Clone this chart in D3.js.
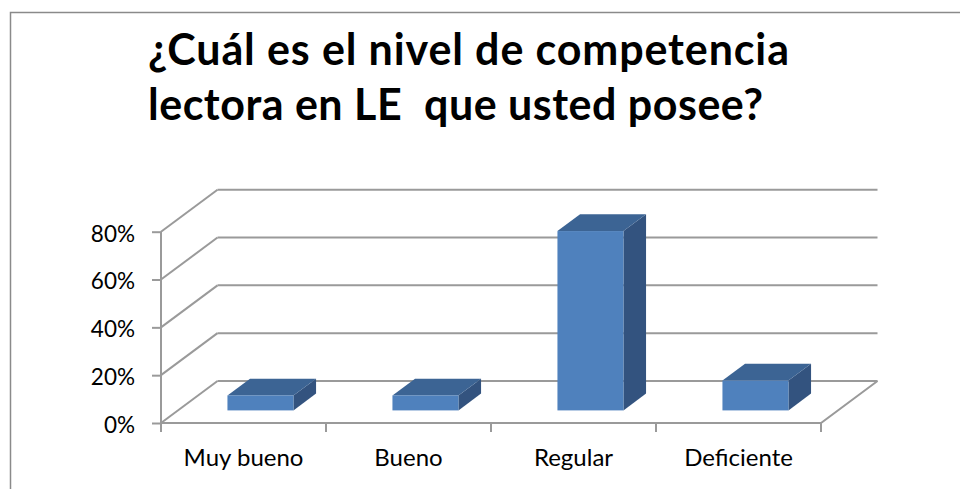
<!DOCTYPE html>
<html>
<head>
<meta charset="utf-8">
<script src="https://cdn.jsdelivr.net/npm/d3@7"></script>
<style>
  html, body { margin: 0; padding: 0; background: #fff; overflow: hidden; }
  svg { display: block; }
  text { font-family: Lato, "Open Sans", sans-serif; fill: #000; }
</style>
</head>
<body>
<div id="chart"></div>
<script>
const categories = ["Muy bueno", "Bueno", "Regular", "Deficiente"];
const values = [0.0625, 0.0625, 0.75, 0.125];
const yTicks = [0, 0.2, 0.4, 0.6, 0.8];
const titleLines = ["¿Cuál es el nivel de competencia", "lectora en LE  que usted posee?"];

(function() {
  const width = 960;
  const height = 489;

  const svg = d3.select("#chart")
    .append("svg")
    .attr("width", width)
    .attr("height", height);

  // outer chart border (runs off the right / bottom edge)
  svg.append("rect")
    .attr("x", 10.5)
    .attr("y", 12.5)
    .attr("width", 980)
    .attr("height", 500)
    .attr("fill", "none")
    .attr("stroke", "#8a8a8a")
    .attr("stroke-width", 1.5);

  // title
  const titleWidths = [641, 615];
  svg.append("g")
    .selectAll("text")
    .data(titleLines)
    .enter()
    .append("text")
    .attr("x", 148)
    .attr("y", (d, i) => 65 + i * 55)
    .attr("textLength", (d, i) => titleWidths[i])
    .attr("lengthAdjust", "spacing")
    .style("font-size", "43px")
    .style("font-weight", "bold")
    .style("white-space", "pre")
    .text(d => d);

  // front plane scales
  const x = d3.scaleBand()
    .domain(categories)
    .range([161, 821]);

  const xBar = d3.scaleBand()
    .domain(categories)
    .range([161, 821])
    .paddingInner(0.6)
    .paddingOuter(0.3);

  const y = d3.scaleLinear()
    .domain([0, 0.8])
    .range([423, 231.7]);

  // depth offset of the full floor
  const depthX = 56.5;
  const depthY = -42;
  const pt = (px, py, f) => [px + depthX * f, py + depthY * f];

  const gridColor = "#9a9a9a";

  // back wall gridlines
  svg.append("g")
    .selectAll("line")
    .data(yTicks)
    .enter()
    .append("line")
    .attr("x1", x.range()[0] + depthX)
    .attr("x2", x.range()[1] + depthX)
    .attr("y1", d => y(d) + depthY)
    .attr("y2", d => y(d) + depthY)
    .attr("stroke", gridColor)
    .attr("stroke-width", 2);

  // side wall diagonals
  svg.append("g")
    .selectAll("line")
    .data(yTicks)
    .enter()
    .append("line")
    .attr("x1", x.range()[0])
    .attr("x2", x.range()[0] + depthX)
    .attr("y1", d => y(d))
    .attr("y2", d => y(d) + depthY)
    .attr("stroke", gridColor)
    .attr("stroke-width", 2);

  // floor front edge + right diagonal
  svg.append("path")
    .attr("d", d3.line()([
      [x.range()[0], y(0)],
      [x.range()[1], y(0)],
      pt(x.range()[1], y(0), 1)
    ]))
    .attr("fill", "none")
    .attr("stroke", gridColor)
    .attr("stroke-width", 2);

  // bars
  const front = "#4f81bd";
  const top = "#3c6494";
  const side = "#33537f";
  const f0 = 0.3, f1 = 0.7;

  const bars = svg.append("g")
    .selectAll("g")
    .data(categories.map((c, i) => ({ cat: c, val: values[i] })))
    .enter()
    .append("g");

  bars.each(function(d) {
    const g = d3.select(this);
    const x0 = xBar(d.cat);
    const x1 = x0 + xBar.bandwidth();
    const yb = y(0);
    const yt = y(d.val);
    const a = pt(x0, yt, f0), b = pt(x1, yt, f0), c = pt(x1, yb, f0);
    const at = pt(x0, yt, f1), bt = pt(x1, yt, f1), ct = pt(x1, yb, f1);

    g.append("path")
      .attr("d", d3.line()([b, bt, ct, c]) + "Z")
      .attr("fill", side);
    g.append("path")
      .attr("d", d3.line()([a, at, bt, b]) + "Z")
      .attr("fill", top);
    g.append("rect")
      .attr("x", a[0])
      .attr("y", a[1])
      .attr("width", x1 - x0)
      .attr("height", c[1] - a[1])
      .attr("fill", front);
  });

  // y axis
  const yAxis = svg.append("g")
    .attr("transform", `translate(${x.range()[0]},0)`)
    .call(d3.axisLeft(y).tickValues(yTicks).tickFormat(d3.format(".0%")).tickSize(9).tickPadding(17));
  yAxis.select(".domain")
    .attr("stroke", gridColor)
    .attr("stroke-width", 2)
    .attr("d", `M0,${y(0.8)}V${y(0)}`);
  yAxis.selectAll(".tick line").attr("stroke", gridColor).attr("stroke-width", 2);
  yAxis.selectAll(".tick text")
    .attr("dy", "0.42em")
    .style("font-size", "22.5px")
    .style("font-family", "Lato, sans-serif")
    .attr("fill", "#000");

  // x axis ticks at category boundaries
  const bounds = categories.map(c => x(c)).concat([x.range()[1]]);
  svg.append("g")
    .selectAll("line")
    .data(bounds)
    .enter()
    .append("line")
    .attr("x1", d => d)
    .attr("x2", d => d)
    .attr("y1", y(0))
    .attr("y2", y(0) + 9)
    .attr("stroke", gridColor)
    .attr("stroke-width", 2);

  svg.append("g")
    .selectAll("text")
    .data(categories)
    .enter()
    .append("text")
    .attr("x", d => x(d) + x.bandwidth() / 2)
    .attr("y", 466)
    .attr("text-anchor", "middle")
    .style("font-size", "24px")
    .text(d => d);
})();
</script>
</body>
</html>
